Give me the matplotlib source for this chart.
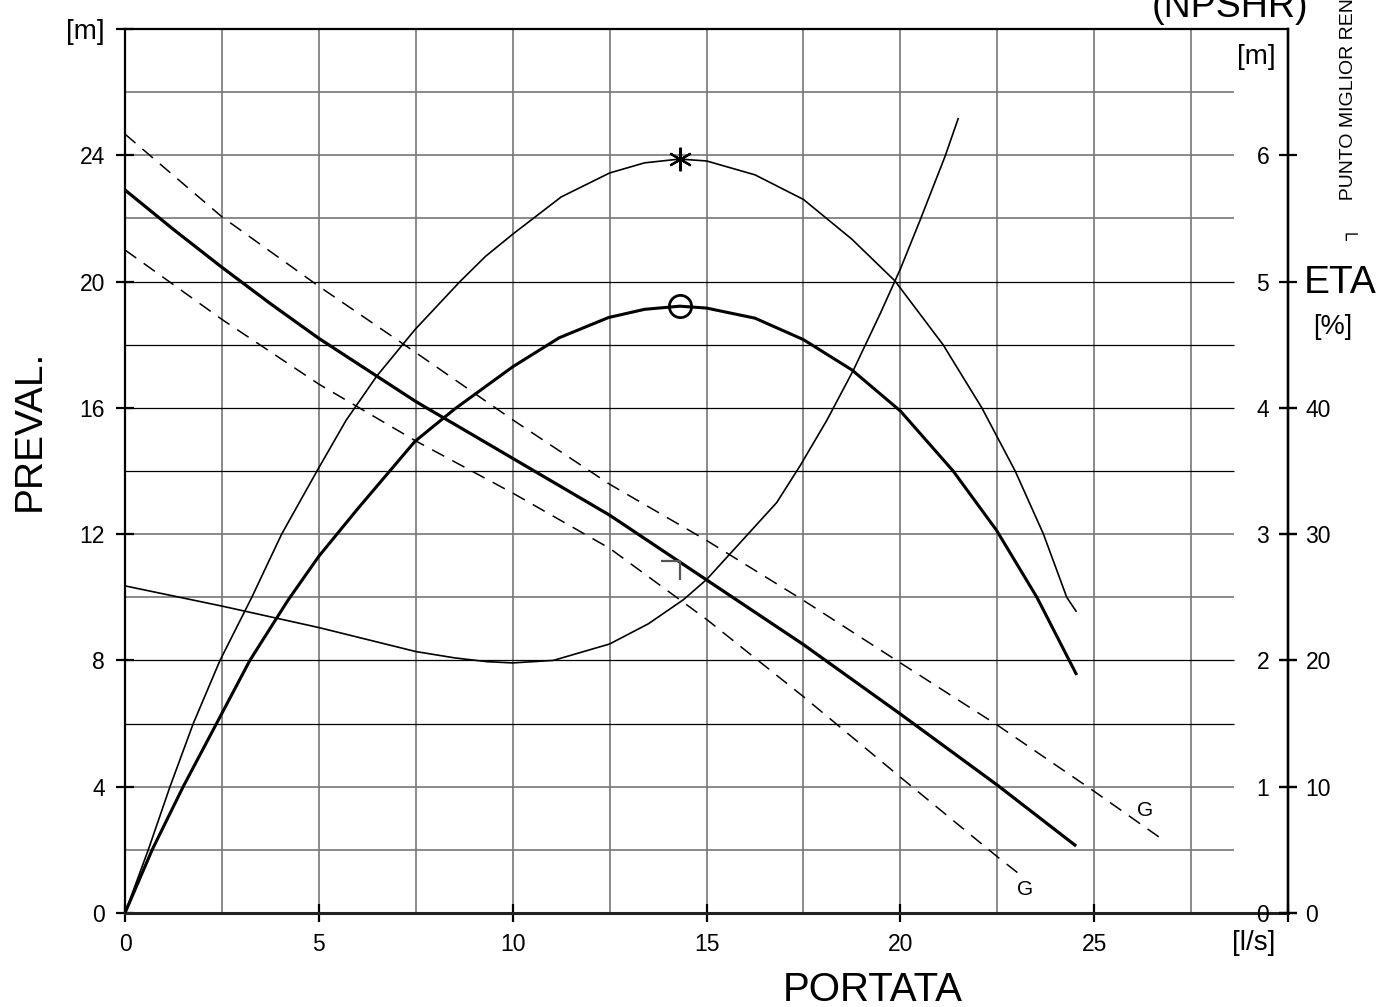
import matplotlib.pyplot as plt
from matplotlib.path import Path

plt.rcParams['font.family'] = ['Liberation Sans', 'DejaVu Sans']

# head curve H-Q (PREVAL. [m] vs PORTATA [l/s])
q_head = [0, 1.25, 2.5, 3.75, 5, 7.5, 10, 12.5, 15, 17.5, 20, 22.5, 24.5]
h_head = [22.9, 21.65, 20.45, 19.3, 18.2, 16.2, 14.4, 12.6, 10.55, 8.5, 6.3, 4.05, 2.15]

# tolerance lines (G), dashed
q_g_up = [0, 2.5, 5, 7.5, 10, 12.5, 15, 17.5, 20, 22.5, 25, 26.85]
h_g_up = [24.67, 22.05, 19.85, 17.75, 15.62, 13.58, 11.8, 9.9, 7.92, 5.95, 3.85, 2.25]
q_g_lo = [0, 2.5, 5, 7.5, 10, 12.5, 15, 17.5, 20, 22.5, 23.1]
h_g_lo = [21.0, 18.8, 16.75, 14.95, 13.3, 11.55, 9.3, 6.85, 4.3, 1.78, 1.2]

# efficiency curves ETA [%]
q_eta1 = [0, 0.6, 1.16, 1.76, 2.45, 3.27, 4.04, 4.97, 5.7, 6.49, 7.48, 8.64, 9.3, 10.0,
          11.25, 12.5, 13.4, 14.3, 15, 16.25, 17.5, 18.75, 19.86, 21.1, 22.1, 22.96,
          23.69, 24.29, 24.53]
eta1 = [0, 5, 10, 15, 20, 25, 30, 35.1, 39, 42.5, 46.2, 50, 52, 53.75,
        56.7, 58.6, 59.4, 59.7, 59.55, 58.45, 56.5, 53.35, 50.05, 45, 40, 35,
        30, 25, 23.9]
q_eta2 = [0, 0.7, 1.5, 2.36, 3.22, 4.2, 5.0, 6.0, 7.48, 8.5, 10.0, 11.2, 12.47, 13.4,
          14.31, 15, 16.25, 17.5, 18.75, 20, 21.36, 22.48, 23.52, 24.53]
eta2 = [0, 5, 10, 15, 20, 24.75, 28.25, 32, 37.35, 39.9, 43.25, 45.55, 47.15, 47.8,
        48.05, 47.9, 47.1, 45.4, 43.0, 39.75, 35, 30.3, 25, 18.95]

# NPSHR [m]
q_npsh = [0, 2.5, 5, 7.5, 8.5, 9.33, 10, 11.05, 12.5, 13.5, 14.4, 15, 15.95, 16.81,
          17.41, 18.1, 18.79, 19.47, 20.0, 20.5, 21.15, 21.49]
npsh = [2.59, 2.43, 2.26, 2.07, 2.02, 1.99, 1.98, 2.0, 2.13, 2.29, 2.48, 2.64, 2.96, 3.25,
        3.54, 3.9, 4.3, 4.74, 5.1, 5.48, 5.99, 6.29]

# best efficiency point
q_bep = 14.31
h_bep = 11.16
eta1_bep = 59.7
eta2_bep = 48.05

x_ticks = [0, 5, 10, 15, 20, 25, 30]
x_labels = ['0', '5', '10', '15', '20', '25', '']
y_ticks = [0, 4, 8, 12, 16, 20, 24, 28]
y_labels = ['0', '4', '8', '12', '16', '20', '24', '[m]']
npsh_ticks = [0, 1, 2, 3, 4, 5, 6]
eta_ticks = [0, 10, 20, 30, 40]

grid_q = [2.5, 5, 7.5, 10, 12.5, 15, 17.5, 20, 22.5, 25, 27.5]
grid_h_gray = [2, 4, 10, 12, 22, 24, 26]
grid_h_dark = [6, 8, 14, 16, 18, 20]

fig = plt.figure(figsize=(13.8, 10.07), dpi=100)
ax = fig.add_axes([0.0906, 0.0934, 0.8428, 0.8778])
ax.set_xlim(0, 30)
ax.set_ylim(0, 28)

ax.vlines(grid_q, 0, 28, color='#777777', lw=1.2, zorder=1)
ax.hlines(grid_h_gray, 0, 28.6, color='#777777', lw=1.2, zorder=1)
ax.hlines(grid_h_dark, 0, 28.6, color='black', lw=0.9, zorder=1)

for s in ['left', 'top', 'right']:
    ax.spines[s].set_linewidth(1.6)
ax.spines['bottom'].set_linewidth(2.2)
ax.spines['bottom'].set_color('#222222')

ax.set_xticks(x_ticks)
ax.set_xticklabels(x_labels)
ax.set_yticks(y_ticks)
ax.set_yticklabels(y_labels)
ax.tick_params(axis='both', direction='inout', length=13, width=1.6, labelsize=16.5)
ax.tick_params(axis='x', pad=8)
ax.tick_params(axis='y', pad=8)
ax.get_yticklabels()[-1].set_fontsize(20)

# head curves
ax.plot(q_head, h_head, color='black', lw=2.3, zorder=4)
ax.plot(q_g_up, h_g_up, color='black', lw=1.1, ls=(0, (9, 6)), zorder=3)
ax.plot(q_g_lo, h_g_lo, color='black', lw=1.1, ls=(0, (9, 6)), zorder=3)
ax.text(26.31, 3.23, 'G', fontsize=15, ha='center', va='center')
ax.text(23.21, 0.73, 'G', fontsize=15, ha='center', va='center')

corner = Path([(-1, 0), (0, 0), (0, -1)], [Path.MOVETO, Path.LINETO, Path.LINETO])
ax.plot([q_bep], [h_bep], marker=corner, ms=28, mew=1.6, color='#555555',
        mfc='none', ls='none', zorder=5)

# NPSH axis
ax_n = ax.twinx()
ax_n.set_ylim(0, 7)
ax_n.set_yticks(npsh_ticks)
ax_n.tick_params(axis='y', direction='inout', length=13, width=1.6, labelsize=16.5, pad=-20)
plt.setp(ax_n.get_yticklabels(), ha='right')
ax_n.plot(q_npsh, npsh, color='black', lw=1.2)
for s in ['left', 'top', 'bottom']:
    ax_n.spines[s].set_visible(False)
ax_n.spines['right'].set_linewidth(1.6)

# ETA axis
ax_e = ax.twinx()
ax_e.set_ylim(0, 70)
ax_e.set_yticks(eta_ticks)
ax_e.tick_params(axis='y', direction='inout', length=13, width=1.6, labelsize=16.5, pad=6)
ax_e.plot(q_eta1, eta1, color='black', lw=1.2)
ax_e.plot(q_eta2, eta2, color='black', lw=2.2)
ax_e.plot([q_bep], [eta1_bep], marker=(6, 2, 0), ms=17, mew=1.6, color='black', ls='none')
ax_e.plot([q_bep], [eta2_bep], marker='o', ms=16, mew=2, mfc='none', mec='black', ls='none')
for s in ['left', 'top', 'bottom']:
    ax_e.spines[s].set_visible(False)
ax_e.spines['right'].set_linewidth(1.6)

# labels
ax.text(0.643, -0.087, 'PORTATA', transform=ax.transAxes, fontsize=29, ha='center', va='center')
ax.text(-0.082, 0.546, 'PREVAL.', transform=ax.transAxes, fontsize=28, ha='center', va='center',
        rotation=90)
ax.text(0.970, -0.034, '[l/s]', transform=ax.transAxes, fontsize=20, ha='center', va='center')
ax.text(0.973, 0.968, '[m]', transform=ax.transAxes, fontsize=20, ha='center', va='center')
ax.text(0.950, 1.025, '(NPSHR)', transform=ax.transAxes, fontsize=27, ha='center', va='center')
ax.text(1.045, 0.713, 'ETA', transform=ax.transAxes, fontsize=28, ha='center', va='center')
ax.text(1.038, 0.663, '[%]', transform=ax.transAxes, fontsize=19.5, ha='center', va='center')
ax.text(1.052, 0.760, '\u2510     PUNTO MIGLIOR RENDIMENTO', transform=ax.transAxes, fontsize=14,
        ha='center', va='bottom', rotation=90)

fig.savefig('out.png', dpi=100)
